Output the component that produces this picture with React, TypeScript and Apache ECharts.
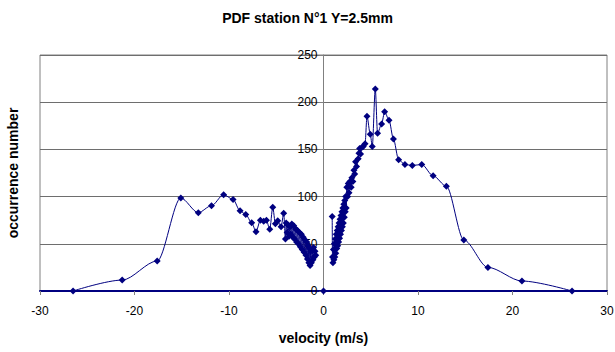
import React, { useEffect, useRef } from "react";
import * as echarts from "echarts";

const TITLE = "PDF station N°1 Y=2.5mm";
const X_NAME = "velocity (m/s)";
const Y_NAME = "occurrence number";

// negative-velocity branch
const negVelocity = [
  -26.5, -21.3, -17.6, -15.1, -13.25, -11.85, -10.57, -9.57, -8.83, -8.23,
  -7.6, -7.14, -6.68, -6.33, -6.04, -5.69, -5.37, -5.09, -4.84, -4.49,
  -4.21, -4.03, -3.95, -3.85, -3.75, -3.65, -3.55, -3.45, -3.35, -3.25,
  -3.15, -3.05, -2.95, -2.85, -2.75, -2.65, -2.55, -2.45, -2.35, -2.25,
  -2.15, -2.05, -1.95, -1.85, -1.78, -1.7, -1.62, -1.55, -1.48, -1.42,
  -1.35, -1.28, -1.2, -1.12, -1.05, -0.98, -0.9, -0.82,
];
const negCount = [
  0, 11.6, 31.8, 98.5, 83, 90.4, 102, 97, 85, 81,
  72.4, 62.8, 74.9, 73.8, 74.9, 65.3, 88.6, 71.3, 74.5, 68.1,
  82.3, 55.1, 72, 62, 70, 58, 68, 60, 71, 57,
  69, 55, 66, 52, 64, 50, 62, 47, 60, 44,
  57, 41, 54, 38, 52, 34, 48, 30, 45, 27,
  42, 30, 44, 33, 46, 36, 42, 38,
];

// isolated zero-velocity point
const zeroVelocity = [0];
const zeroCount = [0];

// positive-velocity branch
const posVelocity = [
  0.92, 0.95, 1.0, 1.05, 1.1, 1.15, 1.2, 1.25, 1.3, 1.35,
  1.4, 1.45, 1.5, 1.55, 1.6, 1.65, 1.7, 1.75, 1.8, 1.85,
  1.9, 1.95, 2.0, 2.05, 2.1, 2.15, 2.2, 2.25, 2.3, 2.35,
  2.4, 2.47, 2.55, 2.62, 2.7, 2.8, 2.93, 3.0, 3.11, 3.22,
  3.3, 3.39, 3.5, 3.67, 3.75, 3.82, 3.92, 4.05, 4.2, 4.4,
  4.6, 4.95, 5.16, 5.48, 5.72, 6.15, 6.47, 6.93, 7.4, 7.95,
  8.62, 9.4, 10.4, 11.6, 13.0, 14.85, 17.4, 21.0, 26.3,
];
const posCount = [
  79, 36, 30, 44, 33, 50, 36, 55, 40, 60,
  45, 64, 48, 68, 52, 72, 56, 76, 60, 80,
  64, 84, 68, 88, 72, 92, 78, 96, 84, 100,
  88, 110, 100, 114, 104, 116, 110, 120, 116, 128,
  124, 137, 132, 140, 146, 151, 145, 152, 153, 156,
  185, 166, 153, 214, 167, 177, 190, 181, 161, 139,
  134, 133, 134, 122, 111, 54, 25, 10.6, 0,
];

const X_MIN = -30;
const X_MAX = 30;
const X_STEP = 10;
const Y_MIN = 0;
const Y_MAX = 250;
const Y_STEP = 50;

const NAVY = "#000080";
const FONT = "Liberation Sans, Arial, sans-serif";

// layout
const GRID_LEFT = 40;
const GRID_RIGHT = 8;
const PLOT_W = 615 - GRID_LEFT - GRID_RIGHT;
const ZERO_OFFSET = (PLOT_W * (0 - X_MIN)) / (X_MAX - X_MIN);

function pairs(xs: number[], ys: number[]) {
  return xs.map((x, i) => [x, ys[i]]);
}

export default function App() {
  const ref = useRef<HTMLDivElement>(null);
  useEffect(() => {
    if (!ref.current) return;
    const chart = echarts.init(ref.current, undefined, { renderer: "svg" });
    const lineSeries = (name: string, data: number[][]) => ({
      name,
      type: "line",
      data,
      smooth: 0.3,
      smoothMonotone: "x",
      symbol: "diamond",
      symbolSize: 7,
      showSymbol: true,
      clip: true,
      lineStyle: { color: NAVY, width: 1 },
      itemStyle: { color: NAVY },
    });
    chart.setOption({
      animation: false,
      backgroundColor: "#ffffff",
      textStyle: { fontFamily: FONT },
      title: {
        text: TITLE,
        left: "center",
        top: 6,
        textStyle: {
          fontFamily: FONT,
          fontWeight: "bold",
          fontSize: 14,
          color: "#000",
        },
      },
      grid: {
        left: GRID_LEFT,
        right: GRID_RIGHT,
        top: 55,
        bottom: 61,
        show: true,
        borderColor: "#808080",
        borderWidth: 1,
        containLabel: false,
        outerBoundsMode: "none",
      },
      xAxis: {
        type: "value",
        min: X_MIN,
        max: X_MAX,
        interval: X_STEP,
        name: X_NAME,
        nameLocation: "middle",
        nameGap: 40,
        nameTextStyle: {
          fontFamily: FONT,
          fontWeight: "bold",
          fontSize: 14,
          color: "#000",
        },
        axisLine: { show: true, onZero: true, lineStyle: { color: NAVY, width: 2 } },
        axisTick: { show: true, length: 4, lineStyle: { color: "#808080" } },
        axisLabel: { color: "#000", fontSize: 12, margin: 14 },
        splitLine: { show: false },
      },
      yAxis: {
        type: "value",
        min: Y_MIN,
        max: Y_MAX,
        interval: Y_STEP,
        offset: -ZERO_OFFSET,
        name: Y_NAME,
        nameLocation: "middle",
        nameGap: ZERO_OFFSET + 20,
        nameRotate: 90,
        nameTextStyle: {
          fontFamily: FONT,
          fontWeight: "bold",
          fontSize: 14,
          color: "#000",
        },
        axisLine: { show: true, onZero: false, lineStyle: { color: "#808080", width: 1 } },
        axisTick: { show: true, length: 4, lineStyle: { color: "#808080" } },
        axisLabel: { color: "#000", fontSize: 12, margin: 6 },
        splitLine: { show: true, lineStyle: { color: "#6e6e6e", width: 1 } },
      },
      series: [
        lineSeries("neg", pairs(negVelocity, negCount)),
        lineSeries("zero", pairs(zeroVelocity, zeroCount)),
        lineSeries("pos", pairs(posVelocity, posCount)),
      ],
    });
    return () => chart.dispose();
  }, []);
  return (
    <div
      ref={ref}
      style={{ position: "fixed", left: 0, top: 0, width: 615, height: 352 }}
    />
  );
}
